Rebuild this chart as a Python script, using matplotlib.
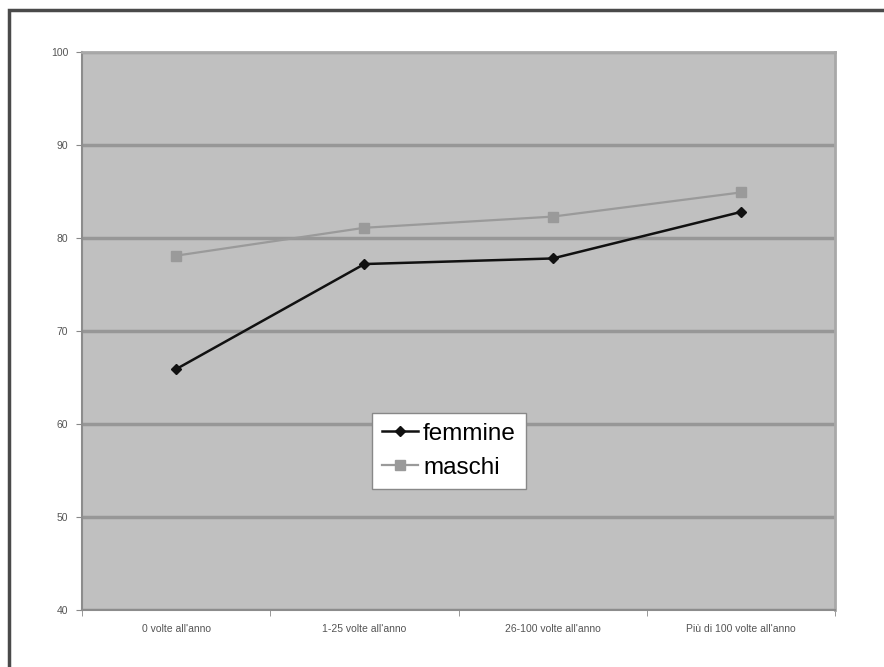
import matplotlib.pyplot as plt
import matplotlib.patches as patches
import numpy as np

plt.rcParams['font.family'] = ['Liberation Sans', 'DejaVu Sans']

categorie = ['0 volte all\'anno', '1-25 volte all\'anno', '26-100 volte all\'anno', 'Più di 100 volte all\'anno']
femmine = [65.9, 77.2, 77.8, 82.8]
maschi = [78.1, 81.1, 82.3, 84.9]

fig = plt.figure(figsize=(8.84, 6.67), dpi=100)
ax = fig.add_axes([82/884, 1-610/667, 753/884, 558/667])

# cornice esterna
frame = patches.Rectangle((8.5/884, -0.1), 1.2, 1.1 - 10/667, transform=fig.transFigure,
                          fill=False, edgecolor='#4a4a4a', linewidth=2.5, clip_on=False)
fig.patches.append(frame)

ax.set_facecolor('#c0c0c0')
x = np.arange(len(categorie))

ax.plot(x, maschi, color='#9a9a9a', marker='s', markersize=7, linewidth=1.6, label='maschi', zorder=3)
ax.plot(x, femmine, color='#111111', marker='D', markersize=5, linewidth=1.8, label='femmine', zorder=4)

ax.set_ylim(40, 100)
ax.set_yticks(range(40, 101, 10))
ax.set_xlim(-0.5, 3.5)
ax.set_xticks(x)
ax.set_xticklabels(categorie)
ax.set_xticks(np.arange(-0.5, 3.6, 1), minor=True)
ax.tick_params(axis='x', which='major', length=0, pad=10, labelsize=7.5, labelcolor='#555555')
ax.tick_params(axis='x', which='minor', length=4, color='#888888')
ax.tick_params(axis='y', length=4, color='#888888', labelsize=7.5, labelcolor='#555555', pad=6)

ax.grid(axis='y', color='#979797', linewidth=2.5)
ax.set_axisbelow(True)
for side in ['top', 'right']:
    ax.spines[side].set_color('#a8a8a8')
    ax.spines[side].set_linewidth(2)
for side in ['left', 'bottom']:
    ax.spines[side].set_color('#8c8c8c')
    ax.spines[side].set_linewidth(1.5)

handles, labels = ax.get_legend_handles_labels()
leg = ax.legend(handles[::-1], labels[::-1], loc='upper left', bbox_to_anchor=(0.385, 0.353),
                borderaxespad=0, fontsize=17.5, frameon=True, fancybox=False,
                handlelength=1.5, handletextpad=0.2, labelspacing=0.5, borderpad=0.4)
leg.get_frame().set_edgecolor('#888888')
leg.get_frame().set_linewidth(1)
leg.get_frame().set_facecolor('white')
leg.get_frame().set_alpha(1)

fig.savefig('out.png', dpi=100)
